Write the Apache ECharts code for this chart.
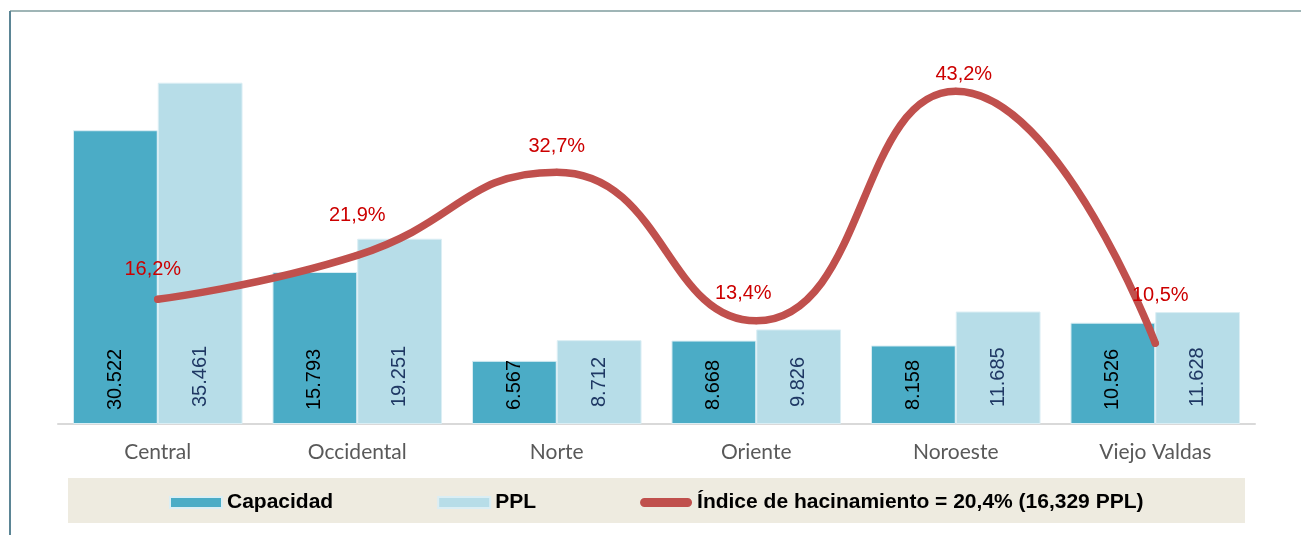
<!DOCTYPE html>
<html>
<head>
<meta charset="utf-8">
<script src="https://cdn.jsdelivr.net/npm/echarts@6/dist/echarts.min.js"></script>
<style>
  html, body { margin: 0; padding: 0; background: #fff; }
  #chart-container { width: 1301px; height: 535px; }
</style>
</head>
<body>
<div id="chart-container"></div>
<script>
const zonas = ['Central', 'Occidental', 'Norte', 'Oriente', 'Noroeste', 'Viejo Valdas'];
const capacidad = [30522, 15793, 6567, 8668, 8158, 10526];
const ppl = [35461, 19251, 8712, 9826, 11685, 11628];
const hacinamiento = [16.2, 21.9, 32.7, 13.4, 43.2, 10.5];
const lineaNombre = 'Índice de hacinamiento = 20,4% (16,329 PPL)';

// label nudges for the % labels (Excel puts them a bit off)
const labelNudge = [[-5, -16], [0, -26], [0, -12], [-13, -14], [8, -3], [5, -34]];

function miles(v) {
    return String(v).replace(/\B(?=(\d{3})+(?!\d))/g, '.');
}

document.addEventListener('DOMContentLoaded', function () {
    const chartContainer = document.getElementById('chart-container');

    const barLabel = {
        show: true,
        position: 'insideBottom',
        rotate: 90,
        align: 'left',
        verticalAlign: 'middle',
        fontFamily: 'Liberation Sans, Arial',
        fontSize: 20,
        formatter: function (p) { return miles(p.value); }
    };

    const option = {
        animation: false,
        grid: { left: 58, right: 46, top: 39, bottom: 111, containLabel: false },
        graphic: [
            { type: 'line', shape: { x1: 10, y1: 11, x2: 1301, y2: 11 }, style: { stroke: '#7f9c9e', lineWidth: 1.5 } },
            { type: 'line', shape: { x1: 10, y1: 11, x2: 10, y2: 535 }, style: { stroke: '#5b8595', lineWidth: 2 } },
            { type: 'rect', z: -10, shape: { x: 68, y: 478, width: 1177, height: 45 }, style: { fill: '#eeebe0' } }
        ],
        legend: {
            left: 169,
            top: 492,
            padding: 0,
            itemGap: 104,
            itemWidth: 52,
            itemHeight: 11,
            z: 10,
            textStyle: { fontFamily: 'Liberation Sans, Arial', fontWeight: 'bold', fontSize: 21, color: '#000' },
            data: [
                { name: 'Capacidad', icon: 'rect' },
                { name: 'PPL', icon: 'rect' },
                {
                    name: lineaNombre,
                    icon: 'path://M5,0 L53,0 A5,5 0 0 1 53,10 L5,10 A5,5 0 0 1 5,0 Z',
                    itemStyle: { color: '#c0504d' }
                }
            ]
        },
        xAxis: {
            type: 'category',
            data: zonas,
            axisLine: { lineStyle: { color: '#d9d9d9', width: 2 } },
            axisTick: { show: false },
            axisLabel: { color: '#595959', fontSize: 21, fontFamily: 'Lato', margin: 18 }
        },
        yAxis: [
            { type: 'value', min: 0, max: 40000, show: false, splitLine: { show: false } },
            { type: 'value', min: 0, max: 50, show: false, splitLine: { show: false } }
        ],
        series: [
            {
                name: 'Capacidad',
                type: 'bar',
                data: capacidad,
                barGap: '0%',
                barCategoryGap: '15%',
                itemStyle: { color: '#4bacc6', borderColor: '#dbeef4', borderWidth: 1 },
                label: Object.assign({}, barLabel, { color: '#000', distance: 14 })
            },
            {
                name: 'PPL',
                type: 'bar',
                data: ppl,
                itemStyle: { color: '#b7dde8', borderColor: '#dbeef4', borderWidth: 1 },
                label: Object.assign({}, barLabel, { color: '#1f3864', distance: 17 })
            },
            {
                name: lineaNombre,
                type: 'line',
                yAxisIndex: 1,
                smooth: 0.5,
                symbol: 'circle',
                symbolSize: 7,
                showSymbol: true,
                z: 5,
                itemStyle: { color: '#c0504d' },
                lineStyle: { color: '#c0504d', width: 7.5, cap: 'round' },
                data: hacinamiento.map(function (v, i) {
                    return {
                        value: v,
                        label: { offset: labelNudge[i] }
                    };
                }),
                label: {
                    show: true,
                    position: 'top',
                    distance: 0,
                    color: '#cc0000',
                    fontFamily: 'Liberation Sans, Arial',
                    fontSize: 20,
                    formatter: function (p) { return p.value.toFixed(1).replace('.', ',') + '%'; }
                }
            }
        ]
    };

    const chart = echarts.init(chartContainer);
    chart.setOption(option);
});
</script>
</body>
</html>
